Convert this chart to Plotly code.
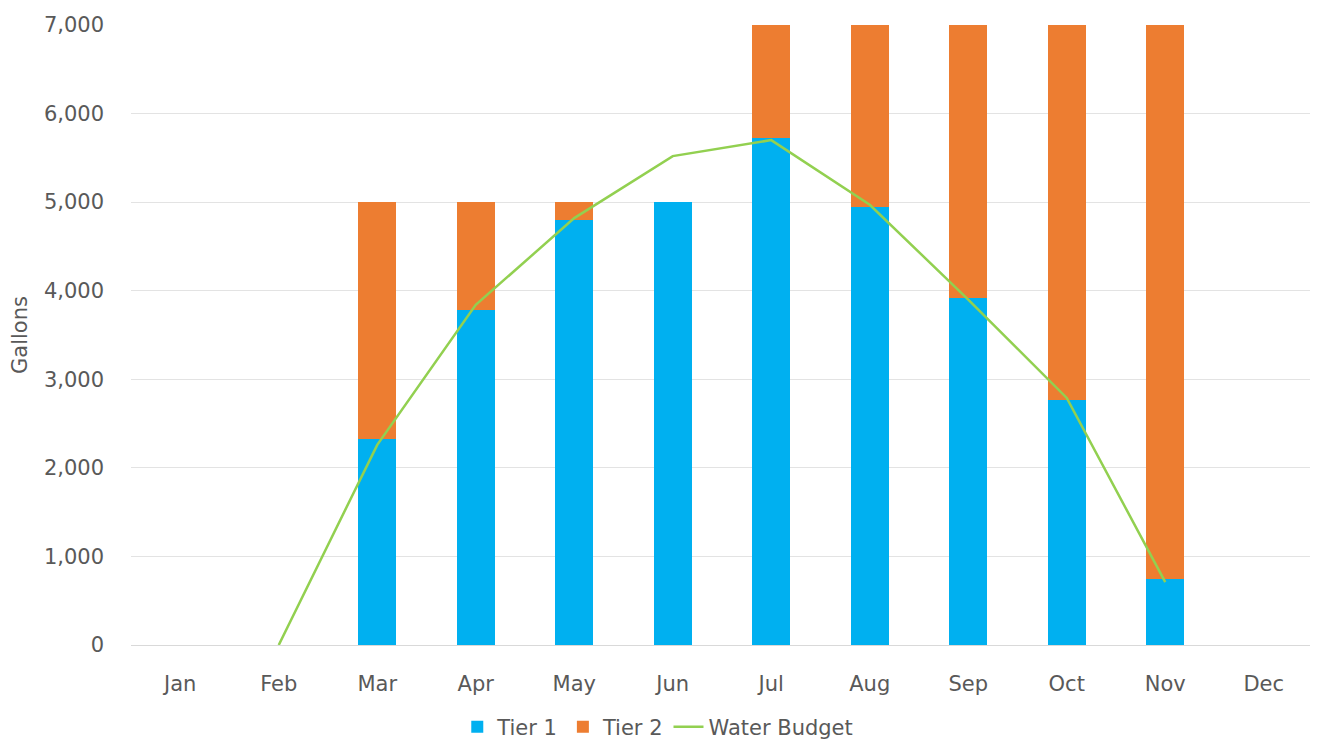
import plotly.graph_objects as go

months = ["Jan", "Feb", "Mar", "Apr", "May", "Jun", "Jul", "Aug", "Sep", "Oct", "Nov", "Dec"]
tier1 = [None, None, 2330, 3780, 4800, 5000, 5720, 4950, 3920, 2770, 750, None]
tier2 = [None, None, 2670, 1220, 200, 0, 1280, 2050, 3080, 4230, 6250, None]
water_budget = [None, 0, 2260, 3840, 4820, 5520, 5700, 4970, 3900, 2790, 710, None]

font_family = "DejaVu Sans, sans-serif"
text_color = "#595959"

fig = go.Figure()
fig.add_trace(go.Bar(x=months, y=tier1, name="Tier 1", marker=dict(color="#00B0F0", line=dict(width=0))))
fig.add_trace(go.Bar(x=months, y=tier2, name="Tier 2", marker=dict(color="#ED7D31", line=dict(width=0))))
fig.add_trace(go.Scatter(x=months, y=water_budget, name="Water Budget", mode="lines",
                         line=dict(color="#92D050", width=2.5), connectgaps=False))

fig.update_layout(
    barmode="stack",
    bargap=0.61,
    width=1318, height=743,
    margin=dict(l=123, r=13, t=17, b=106, autoexpand=False),
    paper_bgcolor="white", plot_bgcolor="white",
    font=dict(family=font_family, size=21, color=text_color),
    legend=dict(orientation="h", xref="container", x=0.493, xanchor="center",
                yref="container", y=0.032, yanchor="middle",
                font=dict(size=21, color=text_color), itemwidth=30, traceorder="normal",
                tracegroupgap=0),
    showlegend=True,
)
fig.update_xaxes(showgrid=False, showline=False, ticks="", ticklabelstandoff=24, automargin=False,
                 tickfont=dict(size=21, color=text_color))
fig.update_yaxes(range=[0, 7000], dtick=1000, tickformat=",", showgrid=True, gridcolor="#E3E3E3",
                 gridwidth=1, zeroline=True, zerolinecolor="#D9D9D9", zerolinewidth=1,
                 ticks="", ticklabelstandoff=26, automargin=False,
                 title=dict(text="Gallons", font=dict(size=21, color=text_color), standoff=12),
                 tickfont=dict(size=21, color=text_color))

fig.write_html("out.html")
